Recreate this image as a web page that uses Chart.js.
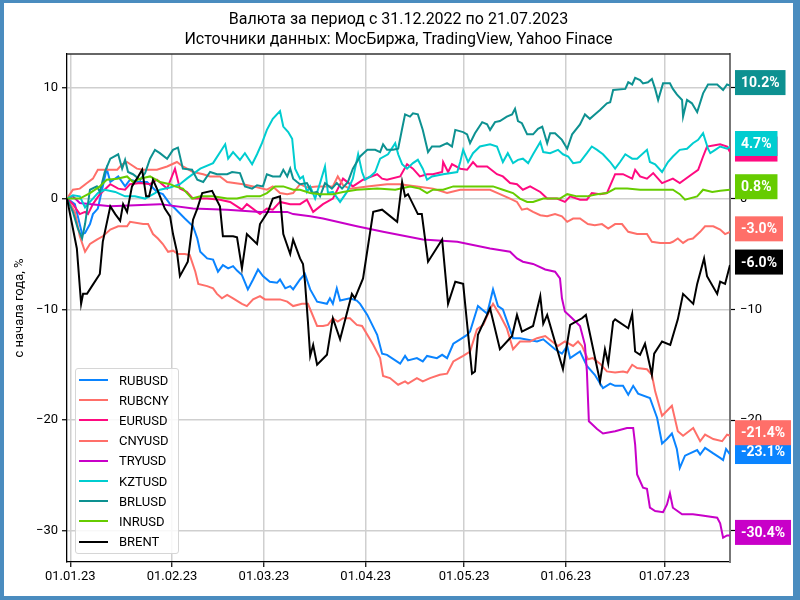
<!DOCTYPE html>
<html>
<head>
<meta charset="utf-8">
<script src="https://cdn.jsdelivr.net/npm/chart.js@4.4.1/dist/chart.umd.min.js"></script>
<style>
  body { margin: 0; background: #4a8cbf; width: 800px; height: 600px; overflow: hidden; }
  #frame { position: absolute; left: 4px; top: 3px; width: 789px; height: 593px; background: #fff; }
  #myChart { display: block; }
  #legend { position: absolute; left: 71px; top: 365px; width: 104px; height: 186px; box-sizing: border-box;
    border: 1px solid #d6d6d6; border-radius: 3px; background: rgba(255,255,255,0.85); padding-top: 1px;
    font: 13px Roboto, sans-serif; color: #000; }
  .row { height: 20.2px; display: flex; align-items: center; }
  .swatch { width: 29px; height: 2px; margin-left: 3px; margin-right: 11px; }
</style>
</head>
<body>
<div id="frame">
  <canvas id="myChart" width="789" height="593"></canvas>
  <div id="legend"></div>
</div>
<script>
// ---------------- data (x = days since 31.12.2022, y = % since start of year) ----------------
const titleLines = ["Валюта за период с 31.12.2022 по 21.07.2023", "Источники данных: МосБиржа, TradingView, Yahoo Finace"]
const yTitle = "с начала года, %"
const tickDays = [1, 32, 60, 91, 121, 152, 182]
const tickLabels = ["01.01.23", "01.02.23", "01.03.23", "01.04.23", "01.05.23", "01.06.23", "01.07.23"]
const yTicks = [-30, -20, -10, 0, 10]

const seriesNames = ["RUBUSD", "RUBCNY", "EURUSD", "CNYUSD", "TRYUSD", "KZTUSD", "BRLUSD", "INRUSD", "BRENT"]
const seriesColors = ["#0a84ff", "#ff6f69", "#ff0a80", "#ff6f69", "#c800c8", "#00cdd0", "#0d9191", "#66cc00", "#000000"]

const rubusdDays = [0,2.4,4.6,5.5,7.0, 7.9,9.4,12.1,13.2,15.6, 17.7,19.2,21.7,24.4,27.4, 29.2,31.4,32.9,35.9,38.4, 39.7,40.6,42.7,44.5,46.0, 47.5,49.1,50.6,51.8,53.3, 55.1,56.7,58.2,59.7,61.8, 64.0,64.9,66.5,68.0,68.9, 71.0,72.5,74.1,76.2,79.2, 80.1,81.0,82.2,83.2,86.2, 88.3,89.3,91.5,94.5,96.0, 97.5,101.5,103.0,103.9,106.6, 108.4,109.7,112.7,114.3,115.8, 117.7,119.8,121.9,122.8,125.2, 128.0,129.8,131.3,132.8,135.9, 138.0,143.2,145.1,148.7,150.8, 152.4,153.3,156.3,158.4,160.8, 163.3,165.5,167.0,169.4,171.0, 172.5,174.0,177.6,179.8,181.3, 182.8,184.3,185.8,186.7,188.3, 189.8,192.0,192.9,194.4,196.9, 199.0,199.9,200.8,202]
const rubusdVals = [0,-0.5,-3.2,-3.1,-2.3, -1.4,-0.9,2.7,1.5,2.0, 1.1,1.7,1.5,1.5,0.6, 0.4,-0.5,-0.9,-1.8,-2.5, -3.6,-4.8,-5.4,-5.5,-6.6, -6.0,-6.3,-6.1,-6.5,-6.9, -8.2,-7.3,-6.4,-7.0,-7.5, -7.6,-7.3,-8.1,-7.9,-8.2, -7.3,-6.8,-8.2,-9.3,-9.5, -9.0,-9.5,-8.1,-9.2,-9.0, -9.2,-9.5,-10.5,-12.3,-14.0, -14.1,-14.9,-14.2,-14.6,-14.4, -14.7,-14.2,-14.4,-14.1,-14.4, -13.1,-12.7,-12.3,-12.0,-9.7, -10.4,-8.2,-9.7,-10.0,-12.6, -12.6,-12.9,-12.7,-13.6,-14.0, -13.3,-14.4,-13.8,-15.1,-15.9, -17.1,-16.7,-16.9,-16.9,-17.7, -16.9,-17.6,-18.0,-19.8,-22.1, -21.7,-21.2,-22.6,-24.3,-23.2, -23.0,-22.7,-23.1,-22.5,-23.0, -23.4,-23.6,-22.6,-23.1]

const rubcnyDays = [0,2.4,3.9,5.5,7.0, 9.1,10.9,13.2,15.6,18.3, 19.2,23.2,24.7,26.2,27.7, 29.2,30.8,32.3,33.8,35.9, 37.4,39.1,40.0,42.7,44.5, 45.7,47.2,48.8,50.6,53.3, 54.8,56.7,58.8,60.3,62.4, 64.9,67.1,68.9,71.6,73.4, 76.2,78.0,79.5,81.0,82.5, 84.1,86.2,88.3,89.9,93.3, 95.4,96.3,98.4,100.9,103.0, 103.9,106.6,108.4,110.6,113.6, 115.8,117.7,120.7,122.8,124.9, 126.8,128.9,129.8,131.9,134.0, 135.9,138.0,141.1,143.2,145.7, 147.8,149.6,151.7,154.2,155.7, 156.9,158.7,160.2,162.4,164.5, 167.0,169.4,170.7,172.2,173.7, 176.7,178.2,179.2,181.3,184.3, 186.1,187.7,190.8,192.9,194.4, 196.9,199.6,201.1,202]
const rubcnyVals = [0,-1.2,-3.4,-4.8,-4.1, -3.7,-3.4,-2.8,-2.5,-2.5, -2.1,-2.3,-2.3,-3.2,-3.6, -4.1,-4.8,-4.7,-5.0,-5.0, -5.1,-6.6,-7.7,-7.9,-8.1, -8.6,-9.0,-8.7,-9.0,-9.5, -9.7,-9.1,-8.8,-9.1,-9.1, -9.1,-9.3,-9.7,-9.5,-9.5, -11.5,-11.5,-11.4,-10.8,-11.1, -10.8,-10.8,-11.4,-11.5,-13.2, -14.4,-16.0,-16.2,-16.8,-16.5, -16.7,-16.2,-16.5,-16.2,-15.9, -15.8,-14.7,-14.2,-13.8,-11.8, -11.4,-10.0,-9.5,-10.5,-11.7, -13.6,-12.9,-12.9,-12.6,-12.4, -12.9,-13.3,-12.9,-13.3,-12.9, -13.3,-14.5,-14.4,-14.9,-15.6, -15.7,-15.6,-15.7,-15.0,-15.3, -15.4,-15.9,-17.4,-19.6,-18.7, -21.0,-21.4,-20.7,-21.9,-21.3, -21.7,-21.9,-21.3,-21.4]

const eurusdDays = [0,1.8,3.9,5.5,6.4, 7.9,10.0,13.2,15.6,17.7, 19.2,22.3,25.3,27.4,30.5, 32.9,34.4,36.5,38.4,42.7, 46.6,49.7,53.3,54.8,58.8, 60.9,62.7,64.9,68.0,71.0, 73.1,75.0,78.0,81.0,84.1, 87.1,90.2,94.5,96.0,97.5, 101.5,103.6,105.4,107.5,109.7, 111.5,114.3,114.6,116.1,117.3, 119.8,121.9,123.7,124.9,128.0, 131.0,132.8,135.0,137.1,138.9, 141.1,144.2,146.3,149.3,151.7, 153.3,156.3,158.4,159.9,162.4, 164.5,167.0,169.4,172.2,173.1, 174.6,176.7,178.6,181.3,184.6, 186.7,190.4,192.3,193.8,195.0, 196.9,199.0,201.1,202]
const eurusdVals = [0,-0.5,-1.4,-1.2,-1.4, -0.5,0.4,1.3,0.9,0.8, 1.3,1.4,1.3,1.7,0.9, 2.7,0.9,0.6,0,0, -0.1,-0.3,-1.0,-0.5,-1.4, -0.9,-1.0,-0.3,-0.5,-0.5, -0.1,-1.2,-0.5,0,1.8, 1.1,1.7,2.2,1.8,1.7, 2.0,3.1,2.7,2.0,2.2, 2.2,2.4,3.3,2.4,3.1, 2.7,2.6,3.3,2.9,2.9, 2.2,2.0,1.4,1.3,0.8, 1.1,0.6,0,0,-0.3, 0.2,-0.1,-0.1,0.5,0.4, 0.5,2.2,2.2,1.8,2.6, 2.0,1.8,2.3,1.4,1.8, 1.4,2.2,2.6,3.8,4.7, 4.8,4.9,4.7,4.2]

const cnyusdDays = [0,1.8,3.9,6.1,7.9, 9.4,10.9,13.2,15.3,16.8, 18.3,21.3,23.2,27.4,30.5, 33.5,35.3,38.4,41.5,43.6, 46.6,48.8,53.6,56.7,60.9, 62.7,64.9,67.1,68.9,71.0, 73.1,76.2,81.0,82.5,84.1, 86.2,91.5,97.5,101.5,106.6, 111.5,115.8,119.8,124.9,128.9, 131.9,135.0,137.1,138.6,140.2, 142.0,144.2,146.3,148.7,150.8, 152.4,154.2,156.3,158.7,160.8, 163.0,164.9,167.0,169.1,171.0, 173.7,176.7,178.2,180.7,183.7, 184.6,186.1,187.7,189.2,190.7, 192.9,194.4,196.9,199.0,200.5, 202]
const cnyusdVals = [0,0.8,0.9,1.4,1.8, 2.6,2.6,2.6,2.6,3.1, 3.3,2.7,2.6,2.6,2.9, 3.3,2.9,2.4,2.2,2.0, 2.0,1.5,1.3,1.1,0.8, 1.1,0.5,0.4,0.5,1.3, 1.0,1.1,1.1,2.0,1.2, 0.9,1.1,1.3,1.3,1.1, 0.9,0.5,0.8,0.8,0.8, 0.4,0.0,-0.3,-1.0,-0.9, -1.2,-1.5,-1.6,-1.4,-1.6, -2.1,-1.8,-1.8,-2.3,-2.4, -2.3,-2.7,-2.3,-2.3,-3.0, -3.2,-3.2,-3.9,-4.0,-4.0, -3.9,-3.6,-4.0,-3.7,-3.6, -3.0,-2.5,-2.5,-2.8,-3.2, -3.0]

const tryusdDays = [0,1.8,3.9,13.2,28.3, 38.4,48.8,58.8,67.1,68.9, 74.1,78.0,88.3,96.3,108.4, 118.9,128.9,135.0,137.1,138.9, 142.0,145.7,148.7,150.2,150.8, 151.7,153.9,156.3,157.8,158.4, 159.0,161.5,163.3,167.0,170.6, 172.5,173.1,173.7,175.5,176.7, 177.6,179.2,181.6,182.8,183.7, 184.6,187.4,190.7,193.5,198.1, 199.0,199.9,201.1,202]
const tryusdVals = [0,0.2,-0.4,-0.7,-0.5, -0.9,-1.0,-1.2,-1.2,-1.4, -1.6,-1.8,-2.5,-3.0,-3.7, -3.9,-4.5,-4.8,-5.4,-5.7, -5.9,-6.4,-6.6,-7.2,-9.0, -10.2,-10.8,-11.5,-13.2,-15.6, -20.1,-20.8,-21.2,-21.0,-20.7, -20.7,-22.2,-24.9,-26.1,-26.2, -27.9,-28.2,-28.3,-27.6,-26.6, -27.9,-28.5,-28.5,-28.6,-28.8, -29.3,-30.6,-30.4,-30.4]

const kztusdDays = [0,1.8,3.9,5.5,7.0, 9.4,11.5,14.7,17.7,20.7, 23.8,26.8,28.3,31.4,34.4, 36.5,40.6,44.5,48.2,49.1, 50.6,52.7,54.2,56.4,57.9, 59.4,60.9,62.7,64.9,65.9, 67.4,68.6,69.5,71.0,71.9, 73.1,74.1,75.6,77.1,78.6, 79.5,81.0,83.2,85.3,87.1, 88.7,89.9,90.8,92.4,93.9, 95.4,97.8,100.0,100.9,102.1, 103.6,105.4,106.9,108.4,109.7, 111.2,114.6,118.9,119.8,120.7, 122.2,123.7,125.8,128.9,131.0, 132.8,134.3,135.9,137.4,138.9, 140.5,142.0,144.2,145.1,147.2, 149.6,151.1,152.7,154.2,156.3, 158.4,159.9,161.5,163.3,165.5, 167.0,168.5,170.1,172.2,173.7, 176.7,177.6,179.2,181.3,183.1, 184.6,186.7,188.9,190.7,192.3, 193.8,195.3,196.0,197.5,199.0, 201.1,202]
const kztusdVals = [0,0.3,0.2,-0.8,-0.3, 0.5,0.8,0.6,0.2,0.2, 0,0.5,0.8,1.0,1.3, 1.8,2.7,3.2,4.9,3.6, 4.2,3.5,4.1,3.1,4.0, 5.0,6.2,7.2,7.9,6.5, 6.0,5.4,2.7,1.8,2.0, 0.6,1.1,0,1.4,2.9, 0.5,0.6,-0.3,0.6,1.8, 4.0,2.4,1.7,2.0,2.4, 3.6,4.0,5.0,4.0,3.1, 2.7,3.2,3.5,2.7,1.7, 2.0,2.2,2.4,3.3,4.4, 3.3,4.1,4.7,4.9,4.7, 3.3,4.1,3.2,3.5,3.6, 3.2,4.0,5.1,4.2,4.1, 4.4,4.0,3.8,3.2,3.3, 4.1,4.7,4.4,4.0,3.3, 2.7,3.3,4.0,3.6,3.6, 4.4,3.3,3.1,2.4,3.3, 3.8,4.4,4.5,5.0,5.3, 5.9,4.5,4.1,4.4,4.7, 4.5,4.7]

const brlusdDays = [0,1.8,3.3,4.6,5.5, 7.0,9.1,10.0,11.5,13.2, 15.6,16.8,17.7,18.6,20.1, 22.3,23.8,25.3,26.8,28.3, 30.5,32.3,33.8,35.3,38.1, 39.7,41.5,43.6,45.7,48.8, 50.3,52.7,54.2,56.4,57.9, 59.7,60.9,62.7,64.9,65.9, 67.1,68.0,68.9,70.1,71.0, 73.1,74.7,76.2,77.1,78.6, 80.7,82.2,83.8,85.6,87.1, 89.3,91.5,93.9,95.4,96.3, 97.5,99.3,100.9,102.1,103.0, 104.5,105.4,106.9,108.4,110.0, 111.2,113.6,115.8,117.3,118.3, 120.7,121.9,122.8,124.3,126.5, 128.0,128.9,130.4,131.9,134.0, 135.6,136.5,137.4,138.6,140.2, 142.0,143.5,144.8,146.3,147.2, 148.7,150.8,152.4,153.9,156.3, 157.8,159.3,160.8,162.4,164.5, 165.5,166.4,170.1,171.0,172.2, 173.1,174.6,175.5,177.0,178.2, 179.2,180.1,181.6,183.7,184.6, 185.8,187.4,187.7,188.9,190.4, 192.0,193.8,195.3,198.1,199.9, 201.1,202]
const brlusdVals = [0,-1.2,-2.7,-3.6,-2.3, 0.8,1.1,0.6,2.4,3.6, 4.0,2.7,3.5,2.4,2.2, 1.7,2.3,3.6,4.4,4.1, 3.6,4.4,4.6,2.7,2.6, 1.7,1.5,2.4,2.2,2.2, 2.4,2.3,1.1,0.9,1.2, 1.1,2.2,2.0,2.0,2.6, 2.0,2.7,1.8,1.5,1.3, 1.4,0.5,0.6,0.2,1.4, 0.9,1.4,0.9,1.5,2.7, 3.8,4.4,4.4,4.2,4.9, 4.4,4.4,4.5,6.3,7.6, 7.4,7.7,7.6,6.2,4.2, 4.7,4.7,5.0,4.7,6.2, 6.0,5.8,5.0,5.9,6.9, 6.7,6.2,6.9,7.0,7.4, 7.6,8.1,7.0,6.8,5.8, 5.8,6.3,6.5,5.0,5.9, 5.9,5.3,4.5,5.8,6.7, 7.6,7.2,7.6,8.0,8.6, 8.7,9.8,9.9,10.5,10.3, 10.9,10.7,10.4,10.5,10.8, 9.9,8.9,10.4,10.4,9.9, 9.4,8.9,7.4,8.9,8.6, 7.8,9.5,10.3,10.3,9.8, 10.3,10.2]

const inrusdDays = [0,3.9,7.0,10.0,12.1, 15.3,18.3,20.1,22.3,25.3, 28.3,31.4,32.9,35.3,38.1, 40.6,44.5,48.8,51.8,54.8, 58.8,60.9,63.4,65.9,68.9, 71.0,74.1,77.1,81.0,84.1, 88.3,94.5,100.0,104.5,107.5, 109.7,111.5,114.6,117.7,121.9, 125.8,129.8,132.8,135.9,138.0, 140.2,142.0,145.1,150.2,152.4, 155.4,158.4,161.5,164.5,167.0, 170.7,174.6,178.6,182.8,184.6, 186.7,188.3,192.0,193.8,196.6, 199.0,202]
const inrusdVals = [0,0,0.5,1.1,1.7, 1.8,2.0,1.5,1.8,2.0, 1.5,1.3,1.1,0.9,0, 0.2,0.2,0,0,0.2, 0.2,0.5,1.1,1.1,0.8, 0.8,0.5,0.4,0.4,0.6, 0.8,0.9,0.8,1.1,0.9, 0.5,0.8,0.8,1.1,1.1, 1.1,1.1,0.8,0.5,0, -0.3,-0.3,0,0,0.4, 0.2,0.2,0.4,0.5,0.9, 0.9,0.8,0.8,0.8,0.8, 0.4,-0.1,0.2,0.8,0.6, 0.7,0.8]

const brentDays = [0,3.0,4.3,4.9,6.1, 7.6,10.0,10.9,13.2,14.7, 16.2,17.1,18.3,19.8,21.7, 22.9,24.1,25.0,26.2,27.4, 29.8,31.4,32.3,33.5,34.4, 36.8,38.4,39.7,41.2,44.2, 46.6,47.5,50.6,51.8,53.3, 54.8,57.9,58.8,61.2,62.7, 64.9,65.9,68.0,68.9,71.0, 71.9,72.5,73.4,74.1,75.0, 76.2,79.2,81.0,83.2,86.8, 87.7,90.2,93.3,96.0,100.6, 102.1,103.0,103.9,106.9,108.1, 110.0,114.3,116.1,118.3,120.7, 123.4,124.3,125.2,128.9,131.9, 135.6,137.1,138.6,142.0,144.2, 145.1,146.3,151.1,153.3,156.9, 158.1,162.4,163.9,164.9,166.4, 167.0,171.0,172.2,173.1,174.6, 176.1,178.2,178.9,181.3,183.8, 186.1,187.7,190.8,192.0,194.1, 195.0,198.1,199.0,200.5,202]
const brentVals = [0,-4.5,-9.5,-8.6,-8.6, -7.9,-6.8,-3.9,-0.7,-1.4, -2.0,-0.5,-1.2,1.1,2.0, 2.6,0.2,0.2,1.7,0.9, -0.9,-1.6,-3.2,-4.8,-7.0, -5.7,-1.9,-0.9,0.5,0.7, -0.7,-3.4,-3.4,-3.5,-6.3, -3.2,-4.1,-2.3,-1.2,0, 0.2,-3.2,-5.0,-3.7,-5.4, -5.9,-7.5,-11.1,-14.2,-13.2, -15.0,-14.1,-10.8,-12.7,-8.6, -9.0,-7.2,-1.2,-1.0,-2.1, 1.5,0.2,0.4,-1.4,-1.4, -5.7,-3.7,-9.5,-7.5,-7.7, -15.8,-15.6,-12.3,-9.9,-13.6, -12.4,-10.5,-12.0,-11.5,-8.8, -11.3,-10.5,-15.4,-11.4,-10.8, -10.5,-16.5,-13.6,-14.9,-11.1, -10.9,-11.7,-10.4,-13.8,-14.1, -13.1,-15.9,-14.0,-12.9,-13.2, -10.9,-8.6,-9.5,-7.7,-5.4, -7.0,-8.6,-7.5,-7.7,-6.0]

const seriesDays = [rubusdDays, rubcnyDays, eurusdDays, cnyusdDays, tryusdDays, kztusdDays, brlusdDays, inrusdDays, brentDays]
const seriesVals = [rubusdVals, rubcnyVals, eurusdVals, cnyusdVals, tryusdVals, kztusdVals, brlusdVals, inrusdVals, brentVals]

// ---------------- chart ----------------
let datasets = seriesNames.map((name, i) => ({
    label: name,
    data: seriesDays[i].map((d, k) => ({x: d, y: seriesVals[i][k]})),
    borderColor: seriesColors[i],
    backgroundColor: seriesColors[i],
    borderWidth: 2,
    pointRadius: 0,
    tension: 0,
    order: seriesNames.length - i,   // later series on top, like the original
}))

const minus = v => String(v).replace('-', '\u2212')

// boxes with the last value at the right edge
const endLabels = {
    id: 'endLabels',
    afterDatasetsDraw(chart) {
        const {ctx, chartArea, scales} = chart
        ctx.save()
        ctx.font = 'bold 14px Roboto'
        ctx.textBaseline = 'middle'
        ctx.textAlign = 'left'
        chart.data.datasets.forEach(ds => {
            const last = ds.data[ds.data.length - 1]
            const y = scales.y.getPixelForValue(last.y) - 3
            const text = last.y.toFixed(1) + '%'
            const w = ctx.measureText(text).width + 12
            ctx.fillStyle = ds.borderColor
            ctx.fillRect(chartArea.right + 5, y - 12.5, w, 25)
            ctx.fillStyle = '#fff'
            ctx.fillText(text, chartArea.right + 11, y + 1)
        })
        ctx.restore()
    }
}

// top spine of the plot box
const topSpine = {
    id: 'topSpine',
    afterDraw(chart) {
        const {ctx, chartArea} = chart
        ctx.save()
        ctx.strokeStyle = '#333'
        ctx.lineWidth = 1.3
        ctx.beginPath()
        ctx.moveTo(chartArea.left, chartArea.top)
        ctx.lineTo(chartArea.right, chartArea.top)
        ctx.stroke()
        ctx.restore()
    }
}

const tickFont = {family: 'Roboto', size: 13}
const gridStyle = {color: '#cfcfcf', lineWidth: 1.5, tickLength: 5, tickColor: '#000', tickWidth: 1.2}

var ctx = document.getElementById('myChart').getContext('2d')
var myChart = new Chart(ctx, {
    type: 'line',
    data: {datasets: datasets},
    plugins: [endLabels, topSpine],
    options: {
        responsive: false,
        animation: false,
        devicePixelRatio: 1,
        layout: {padding: 0},
        scales: {
            x: {
                type: 'linear',
                min: 0,
                max: 202,
                afterBuildTicks: s => { s.ticks = tickDays.map(v => ({value: v})) },
                afterFit: s => { s.height = 34 },
                ticks: {
                    autoSkip: false, maxRotation: 0, padding: 2, color: '#000', font: tickFont,
                    callback: (v, i) => tickLabels[i]
                },
                grid: gridStyle,
                border: {color: '#000', width: 1.3},
            },
            y: {
                position: 'left',
                min: -32.8,
                max: 13.05,
                afterBuildTicks: s => { s.ticks = yTicks.map(v => ({value: v})) },
                afterFit: s => { s.width = 63 },
                ticks: {padding: 4, color: '#000', font: tickFont, callback: v => minus(v)},
                grid: gridStyle,
                border: {color: '#000', width: 1.3},
                title: {display: true, text: yTitle, color: '#000', font: tickFont, padding: {top: 8, bottom: 0}},
            },
            y2: {
                position: 'right',
                min: -32.8,
                max: 13.05,
                afterBuildTicks: s => { s.ticks = yTicks.map(v => ({value: v})) },
                afterFit: s => { s.width = 63 },
                ticks: {padding: 5, color: '#000', font: tickFont, callback: v => minus(v)},
                grid: {drawOnChartArea: false, tickLength: 5, tickColor: '#000', tickWidth: 1.2},
                border: {color: '#777', width: 2},
            }
        },
        plugins: {
            legend: {display: false},
            tooltip: {enabled: false},
            title: {
                display: true,
                text: titleLines,
                color: '#000',
                font: {family: 'Roboto', size: 16, weight: 'normal', lineHeight: 1.25},
                padding: {top: 7, bottom: 4},
            },
        },
    }
})

// legend box in the lower left corner of the plot
let legendBox = document.getElementById('legend')
datasets.forEach(ds => {
    let row = document.createElement('div')
    row.className = 'row'
    row.innerHTML = '<span class="swatch" style="background:' + ds.borderColor + '"></span>' + ds.label
    legendBox.appendChild(row)
})
</script>
</body>
</html>
